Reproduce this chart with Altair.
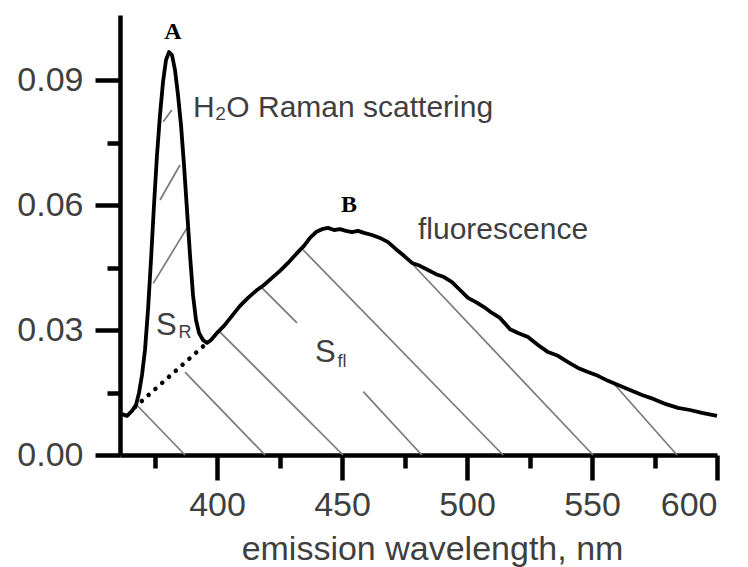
import altair as alt
import pandas as pd

# ---- data ----
wavelength = [362.0, 364.0, 366.0, 367.6, 368.8, 370.0, 371.2, 372.4, 373.6, 374.8,
              376.0, 377.2, 378.4, 379.6, 380.8, 382.0, 383.2, 384.4, 385.6, 386.8,
              388.0, 389.2, 390.4, 391.6, 392.8, 394.4, 396.0, 397.6, 400.0, 402.8,
              406.0, 409.2, 412.4, 415.6, 418.8, 422.0, 425.2, 428.4, 431.6, 434.8,
              437.2, 439.6, 442.0, 444.4, 446.8, 449.2, 451.6, 454.0, 456.4, 458.8,
              462.0, 465.2, 468.4, 471.6, 474.8, 478.0, 481.2, 484.4, 487.6, 490.8,
              494.0, 497.2, 500.4, 503.6, 506.8, 510.0, 513.2, 517.2, 520.4, 524.4,
              528.4, 532.4, 536.4, 540.4, 544.4, 548.4, 552.4, 556.4, 560.4, 565.2,
              570.0, 574.8, 579.6, 584.4, 589.2, 594.0, 600.0]
intensity = [0.0098, 0.0094, 0.0106, 0.0120, 0.0149, 0.0192, 0.0252, 0.0348, 0.0468, 0.0600,
             0.0720, 0.0816, 0.0895, 0.0948, 0.0967, 0.0960, 0.0924, 0.0864, 0.0792, 0.0696,
             0.0588, 0.0480, 0.0384, 0.0324, 0.0293, 0.0276, 0.0269, 0.0276, 0.0293, 0.0310,
             0.0334, 0.0358, 0.0377, 0.0394, 0.0408, 0.0425, 0.0442, 0.0461, 0.0482, 0.0502,
             0.0521, 0.0535, 0.0542, 0.0545, 0.0540, 0.0542, 0.0538, 0.0535, 0.0538, 0.0533,
             0.0528, 0.0521, 0.0511, 0.0494, 0.0478, 0.0461, 0.0454, 0.0444, 0.0434, 0.0427,
             0.0415, 0.0396, 0.0377, 0.0367, 0.0355, 0.0341, 0.0329, 0.0302, 0.0293, 0.0283,
             0.0264, 0.0247, 0.0238, 0.0223, 0.0209, 0.0199, 0.0190, 0.0178, 0.0168, 0.0156,
             0.0144, 0.0134, 0.0122, 0.0113, 0.0108, 0.0101, 0.0094]

# Raman-area hatching (rising strokes)
raman_x1 = [378.5, 377.2, 374.5]
raman_y1 = [0.0800, 0.0612, 0.0412]
raman_x2 = [381.9, 385.2, 387.9]
raman_y2 = [0.0828, 0.0696, 0.0544]

# Fluorescence-area hatching (falling strokes)
fl_x1 = [367.9, 387.2, 401.2, 418.0, 458.5, 434.5, 478.5, 559.2]
fl_y1 = [0.0120, 0.0199, 0.0295, 0.0401, 0.0152, 0.0492, 0.0456, 0.0168]
fl_x2 = [387.2, 419.2, 450.4, 432.0, 481.9, 514.4, 550.4, 584.0]
fl_y2 = [0.0, 0.0, 0.0, 0.0317, 0.0, 0.0, 0.0, 0.0]

# dotted baseline under the Raman peak
base_x1 = [367.2]
base_y1 = [0.0115]
base_x2 = [396.0]
base_y2 = [0.0269]

x_major_ticks = [400, 450, 500, 550, 600]
x_minor_ticks = [375, 425, 475, 525, 575]
y_major_ticks = [0.0, 0.03, 0.06, 0.09]
y_minor_ticks = [0.015, 0.045, 0.075]

# annotations
letter_text = ["A", "B"]
letter_x = [382.4, 452.8]
letter_y = [0.1015, 0.0600]

label_text = ["H\u2082O Raman scattering", "fluorescence"]
label_x = [390.4, 480.4]
label_y = [0.0833, 0.0540]

s_text = ["S", "S"]
s_x = [375.6, 439.2]
s_y = [0.0310, 0.0245]
sub_text = ["R", "fl"]
sub_x = [384.6, 448.2]
sub_y = [0.0293, 0.0223]

# ---- tables ----
curve_df = pd.DataFrame({"wavelength": wavelength, "intensity": intensity})
hatch_df = pd.DataFrame({
    "x1": raman_x1 + fl_x1, "y1": raman_y1 + fl_y1,
    "x2": raman_x2 + fl_x2, "y2": raman_y2 + fl_y2,
})
base_df = pd.DataFrame({"x1": base_x1, "y1": base_y1, "x2": base_x2, "y2": base_y2})
letter_df = pd.DataFrame({"x": letter_x, "y": letter_y, "t": letter_text})
label_df = pd.DataFrame({"x": label_x, "y": label_y, "t": label_text})
s_df = pd.DataFrame({"x": s_x, "y": s_y, "t": s_text})
sub_df = pd.DataFrame({"x": sub_x, "y": sub_y, "t": sub_text})

FONT = "Liberation Sans"
GRAY = "#3f3f3f"

x_scale = alt.Scale(domain=[361.2, 600], nice=False, zero=False)
y_scale = alt.Scale(domain=[0, 0.1056], nice=False, zero=False)

x_major = alt.Axis(
    orient="bottom", values=x_major_ticks, tickSize=25, tickWidth=4.5, tickColor="black",
    domainColor="black", domainWidth=4.5, grid=False,
    labelFont=FONT, labelFontSize=34, labelColor=GRAY, labelPadding=8, format="d",
    title="emission wavelength, nm", titleFont=FONT, titleFontSize=34,
    titleFontWeight="normal", titleColor=GRAY, titleX=312, titleY=104,
    titleAlign="center", titleBaseline="alphabetic",
)
x_minor = alt.Axis(
    orient="bottom", values=x_minor_ticks, tickSize=13, tickWidth=4.5, tickColor="black",
    domain=False, labels=False, grid=False, title=None,
)
y_major = alt.Axis(
    orient="left", values=y_major_ticks, tickSize=25, tickWidth=4.5, tickColor="black",
    domainColor="black", domainWidth=4.5, grid=False, format=".2f",
    labelFont=FONT, labelFontSize=34, labelColor=GRAY, labelPadding=12, title=None,
)
y_minor = alt.Axis(
    orient="left", values=y_minor_ticks, tickSize=13, tickWidth=4.5, tickColor="black",
    domain=False, labels=False, grid=False, title=None,
)

hatch = alt.Chart(hatch_df).mark_rule(color="#7a7a7a", strokeWidth=1.7).encode(
    x=alt.X("x1:Q", scale=x_scale, axis=x_minor),
    y=alt.Y("y1:Q", scale=y_scale, axis=y_minor),
    x2="x2:Q", y2="y2:Q",
)

curve = alt.Chart(curve_df).mark_line(color="black", strokeWidth=3.8, strokeJoin="round").encode(
    x=alt.X("wavelength:Q", scale=x_scale, axis=x_major),
    y=alt.Y("intensity:Q", scale=y_scale, axis=y_major),
)

baseline = alt.Chart(base_df).mark_rule(
    color="black", strokeWidth=4.5, strokeDash=[0.1, 9], strokeCap="round"
).encode(
    x=alt.X("x1:Q", scale=x_scale, axis=None),
    y=alt.Y("y1:Q", scale=y_scale, axis=None),
    x2="x2:Q", y2="y2:Q",
)

letters = alt.Chart(letter_df).mark_text(
    font="Liberation Serif", fontWeight="bold", fontSize=24, color="black",
    align="center", baseline="middle",
).encode(
    x=alt.X("x:Q", scale=x_scale, axis=None),
    y=alt.Y("y:Q", scale=y_scale, axis=None),
    text="t:N",
)

labels = alt.Chart(label_df).mark_text(
    font=FONT, fontSize=30, color=GRAY, align="left", baseline="middle",
).encode(
    x=alt.X("x:Q", scale=x_scale, axis=None),
    y=alt.Y("y:Q", scale=y_scale, axis=None),
    text="t:N",
)

s_main = alt.Chart(s_df).mark_text(
    font=FONT, fontSize=31, color=GRAY, align="left", baseline="middle",
).encode(
    x=alt.X("x:Q", scale=x_scale, axis=None),
    y=alt.Y("y:Q", scale=y_scale, axis=None),
    text="t:N",
)

s_sub = alt.Chart(sub_df).mark_text(
    font=FONT, fontSize=18, color=GRAY, align="left", baseline="middle",
).encode(
    x=alt.X("x:Q", scale=x_scale, axis=None),
    y=alt.Y("y:Q", scale=y_scale, axis=None),
    text="t:N",
)

chart = alt.layer(hatch, curve, baseline, letters, labels, s_main, s_sub).resolve_axis(
    x="independent", y="independent"
).properties(
    width=597, height=440,
    padding={"left": 120, "top": 15, "right": 31, "bottom": 112},
    autosize="none",
).configure_view(stroke=None)

chart.save("out.html", embed_options={"renderer": "svg", "actions": False})
